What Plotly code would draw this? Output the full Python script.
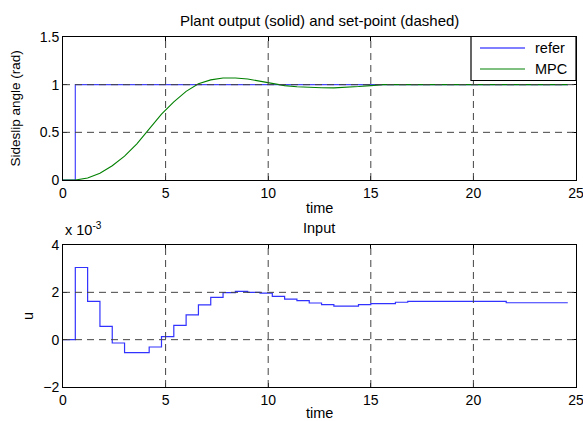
import plotly.graph_objects as go
from plotly.subplots import make_subplots

# ---- data ----
t_ref = [0, 0.6, 0.6, 24.6]
y_ref = [0, 0, 1, 1]

t_mpc = [0, 0.6, 1.2, 1.8, 2.4, 3.0, 3.6, 4.2, 4.8, 5.4, 6.0, 6.6, 7.2, 7.8,
         8.4, 9.0, 9.6, 10.2, 10.8, 11.4, 12.0, 12.6, 13.2, 13.8, 14.4, 15.0,
         15.6, 24.6]
y_mpc = [0, 0, 0.02, 0.07, 0.15, 0.25, 0.38, 0.54, 0.69, 0.82, 0.93, 1.01,
         1.05, 1.07, 1.07, 1.06, 1.035, 1.01, 0.99, 0.978, 0.97, 0.967, 0.966,
         0.97, 0.98, 0.99, 1.0, 1.0]

t_u = [0, 0.6, 1.2, 1.8, 2.4, 3.0, 4.2, 4.8, 5.4, 6.0, 6.6, 7.2, 7.8, 8.4,
       9.0, 9.6, 10.2, 10.8, 11.4, 12.0, 12.6, 13.2, 14.4, 15.0, 16.2, 16.8,
       21.6, 24.6]
u_x1e3 = [0, 3.05, 1.62, 0.56, -0.14, -0.55, -0.31, 0.13, 0.60, 1.05, 1.47,
          1.79, 1.99, 2.04, 2.00, 1.97, 1.83, 1.71, 1.65, 1.55, 1.48, 1.42,
          1.48, 1.52, 1.58, 1.62, 1.56, 1.56]

x_ticks = [0, 5, 10, 15, 20, 25]
y1_ticks = [0, 0.5, 1, 1.5]
y1_ticklabels = ["0", "0.5", "1", "1.5"]
y2_ticks = [-2, 0, 2, 4]

series_names = ["refer", "MPC"]
series_colors = ["#0000ff", "#008000"]

# ---- layout geometry (pixels) ----
W, H = 583, 421
L, R, T, B = 63, 576, 37, 387


def px_x(x):
    return (x - L) / (R - L)


def px_y(y):
    return (B - y) / (B - T)


FONT = "Liberation Sans, Arial, sans-serif"

fig = make_subplots(rows=2, cols=1)

fig.add_trace(go.Scatter(x=t_ref, y=y_ref, mode="lines", name=series_names[0],
                         showlegend=False,
                         line=dict(color="rgb(70,70,255)", width=1.2)), row=1, col=1)
fig.add_trace(go.Scatter(x=t_mpc, y=y_mpc, mode="lines", name=series_names[1],
                         showlegend=False,
                         line=dict(color=series_colors[1], width=1.1)), row=1, col=1)
fig.add_trace(go.Scatter(x=t_u, y=u_x1e3, mode="lines", line_shape="hv",
                         showlegend=False,
                         line=dict(color="rgb(50,50,255)", width=1.2)), row=2, col=1)

axis_common = dict(showgrid=False, zeroline=False, showline=True, linecolor="black",
                   linewidth=1, mirror="ticks", ticks="inside", ticklen=4,
                   tickcolor="black", ticklabeloverflow="allow", automargin=False,
                   tickfont=dict(family=FONT, size=14, color="black"))

fig.update_xaxes(range=[0, 25], tickvals=x_ticks, domain=[0, 1], **axis_common)
fig.update_yaxes(**axis_common)
fig.update_yaxes(range=[0, 1.5], tickvals=y1_ticks, ticktext=y1_ticklabels,
                 domain=[px_y(180), 1], row=1, col=1)
fig.update_yaxes(range=[-2, 4], tickvals=y2_ticks,
                 domain=[0, px_y(245)], row=2, col=1)

# dashed grid drawn above the traces (MATLAB style)
grid_line = dict(color="#444", width=1, dash="7px,5px")
shapes = []
for xv in x_ticks[1:-1]:
    for xr, yr in (("x", "y domain"), ("x2", "y2 domain")):
        shapes.append(dict(type="line", xref=xr, yref=yr, x0=xv, x1=xv, y0=0, y1=1,
                           line=grid_line, layer="above"))
for yv in y1_ticks[1:-1]:
    shapes.append(dict(type="line", xref="x domain", yref="y", x0=0, x1=1, y0=yv, y1=yv,
                       line=grid_line, layer="above"))
for yv in y2_ticks[1:-1]:
    shapes.append(dict(type="line", xref="x2 domain", yref="y2", x0=0, x1=1, y0=yv, y1=yv,
                       line=grid_line, layer="above"))

# MATLAB-style legend box (drawn as paper shapes + text)
shapes.append(dict(type="rect", xref="paper", yref="paper",
                   x0=px_x(471), x1=px_x(576), y0=px_y(80.5), y1=px_y(36.5),
                   fillcolor="white", line=dict(color="black", width=1.2), layer="above"))
leg_rows = [48, 69]
annotations = []
for name, col, yy in zip(series_names, series_colors, leg_rows):
    shapes.append(dict(type="line", xref="paper", yref="paper",
                       x0=px_x(480), x1=px_x(525), y0=px_y(yy), y1=px_y(yy),
                       line=dict(color=col, width=1.2), layer="above"))
    annotations.append(dict(text=name, x=px_x(533), y=px_y(yy), xref="paper",
                            yref="paper", showarrow=False, xanchor="left",
                            yanchor="middle",
                            font=dict(family=FONT, size=14.5, color="black")))

txt = dict(family=FONT, size=14.5, color="black")
annotations += [
    dict(text="Plant output (solid) and set-point (dashed)", x=px_x(319), y=px_y(20),
         xref="paper", yref="paper", showarrow=False,
         font=dict(family=FONT, size=15, color="black"),
         xanchor="center", yanchor="middle"),
    dict(text="time", x=px_x(319), y=px_y(208), xref="paper", yref="paper",
         showarrow=False, font=txt, xanchor="center", yanchor="middle"),
    dict(text="Sideslip angle (rad)", x=px_x(15), y=px_y(108.5), xref="paper",
         yref="paper", showarrow=False,
         font=dict(family=FONT, size=13.5, color="black"), textangle=-90,
         xanchor="center", yanchor="middle"),
    dict(text="Input", x=px_x(319), y=px_y(228), xref="paper", yref="paper",
         showarrow=False, font=txt, xanchor="center", yanchor="middle"),
    dict(text="x 10<sup>-3</sup>", x=px_x(63), y=px_y(229), xref="paper", yref="paper",
         showarrow=False, font=txt, xanchor="left", yanchor="middle"),
    dict(text="u", x=px_x(28), y=px_y(316), xref="paper", yref="paper",
         showarrow=False, font=txt, textangle=-90,
         xanchor="center", yanchor="middle"),
    dict(text="time", x=px_x(319), y=px_y(413), xref="paper", yref="paper",
         showarrow=False, font=txt, xanchor="center", yanchor="middle"),
]

fig.update_layout(
    width=W, height=H,
    margin=dict(l=L, r=W - R, t=T, b=H - B),
    paper_bgcolor="white", plot_bgcolor="white",
    shapes=shapes, annotations=annotations,
    showlegend=False,
)

fig.write_html("out.html")
